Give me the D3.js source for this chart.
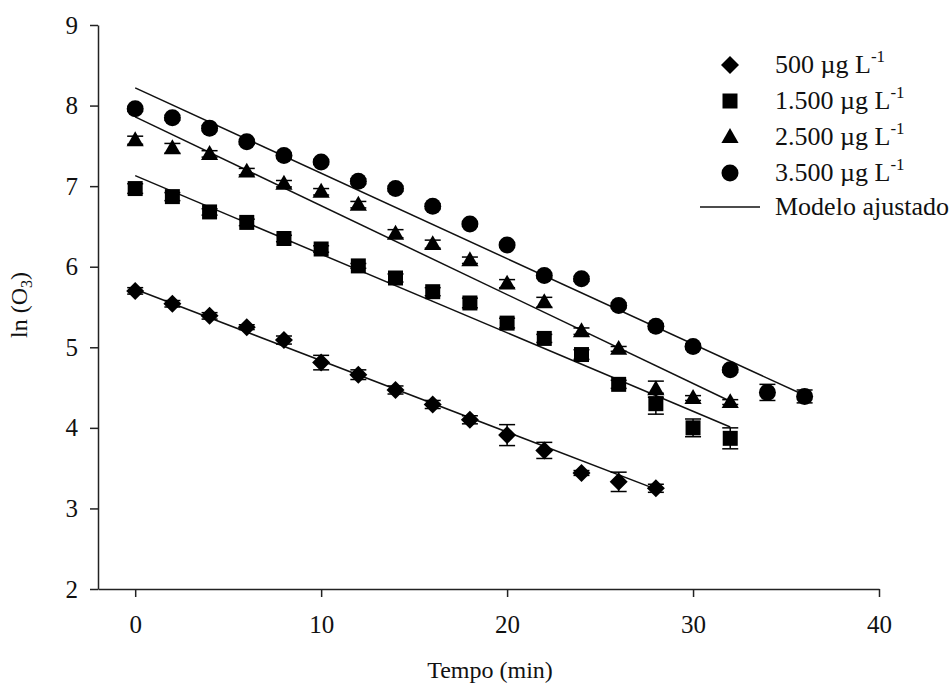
<!DOCTYPE html>
<html>
<head>
<meta charset="utf-8">
<script src="https://cdn.jsdelivr.net/npm/d3@7"></script>
<style>
body { margin: 0; background: #fff; }
svg { font-family: "Liberation Serif", "Times New Roman", serif; }
.axis path, .axis line { stroke: #222; stroke-width: 1.5; }
</style>
</head>
<body>
<svg width="952" height="689"></svg>
<script>
// tiempo (min) and ln(O3) for each dose
var t500 = [0, 2, 4, 6, 8, 10, 12, 14, 16, 18, 20, 22, 24, 26, 28]
var ln500 = [5.70, 5.54, 5.39, 5.25, 5.09, 4.81, 4.66, 4.47, 4.29, 4.10, 3.91, 3.72, 3.44, 3.33, 3.25]
var err500 = [0.04, 0.04, 0.04, 0.03, 0.05, 0.09, 0.06, 0.05, 0.05, 0.05, 0.13, 0.10, 0.03, 0.12, 0.05]

var t1500 = [0, 2, 4, 6, 8, 10, 12, 14, 16, 18, 20, 22, 24, 26, 28, 30, 32]
var ln1500 = [6.97, 6.87, 6.68, 6.55, 6.35, 6.22, 6.01, 5.86, 5.69, 5.55, 5.30, 5.11, 4.91, 4.54, 4.30, 4.00, 3.87]
var err1500 = [0.06, 0.05, 0.04, 0.04, 0.04, 0.04, 0.03, 0.05, 0.05, 0.06, 0.06, 0.05, 0.06, 0.05, 0.13, 0.11, 0.13]

var t2500 = [0, 2, 4, 6, 8, 10, 12, 14, 16, 18, 20, 22, 24, 26, 28, 30, 32]
var ln2500 = [7.57, 7.47, 7.40, 7.18, 7.03, 6.93, 6.77, 6.41, 6.28, 6.08, 5.79, 5.56, 5.20, 4.98, 4.48, 4.37, 4.32]
var err2500 = [0.05, 0.06, 0.04, 0.04, 0.04, 0.04, 0.04, 0.05, 0.05, 0.04, 0.05, 0.06, 0.04, 0.03, 0.10, 0.03, 0.03]

var t3500 = [0, 2, 4, 6, 8, 10, 12, 14, 16, 18, 20, 22, 24, 26, 28, 30, 32, 34, 36]
var ln3500 = [7.96, 7.85, 7.72, 7.55, 7.38, 7.30, 7.06, 6.97, 6.75, 6.53, 6.27, 5.89, 5.85, 5.52, 5.26, 5.01, 4.72, 4.44, 4.39]
var err3500 = [0.03, 0.03, 0.03, 0.03, 0.03, 0.03, 0.03, 0.03, 0.03, 0.03, 0.03, 0.03, 0.03, 0.03, 0.03, 0.03, 0.03, 0.10, 0.08]

// modelo ajustado: ln(O3) = a + b*t, drawn from t=0 to tEnd
var fitIntercept = [5.72, 7.13, 7.86, 8.22]
var fitSlope = [-0.0886, -0.0975, -0.1103, -0.106]
var fitEnd = [28, 32, 32, 36]

var seriesNames = ["500", "1.500", "2.500", "3.500"]
var xTicks = [0, 10, 20, 30, 40]
var yTicks = [2, 3, 4, 5, 6, 7, 8, 9]

var svg = d3.select("svg")

var x = d3.scaleLinear().domain([-2, 40]).range([98, 879])
var y = d3.scaleLinear().domain([2, 9]).range([589, 25])

var series = [
	{ t: t500, v: ln500, e: err500, shape: "diamond" },
	{ t: t1500, v: ln1500, e: err1500, shape: "square" },
	{ t: t2500, v: ln2500, e: err2500, shape: "triangle" },
	{ t: t3500, v: ln3500, e: err3500, shape: "circle" }
]

function symbolPath(shape) {
	if (shape == "diamond") return d3.symbol().type(d3.symbolSquare).size(162)()
	if (shape == "square") return d3.symbol().type(d3.symbolSquare).size(225)()
	if (shape == "triangle") return d3.symbol().type(d3.symbolTriangle).size(128)()
	return d3.symbol().type(d3.symbolCircle).size(227)()
}
function symbolTransform(shape, px, py) {
	if (shape == "diamond") return "translate(" + px + "," + py + ") rotate(45)"
	if (shape == "triangle") return "translate(" + px + "," + (py + 1) + ")"
	return "translate(" + px + "," + py + ")"
}

// axes
var xAxis = svg.append("g").attr("class", "axis")
	.attr("transform", "translate(0,589)")
	.call(d3.axisBottom(x).tickValues(xTicks).tickFormat(d3.format("d"))
		.tickSize(8).tickSizeOuter(0).tickPadding(18))

var yAxis = svg.append("g").attr("class", "axis")
	.attr("transform", "translate(98,0)")
	.call(d3.axisLeft(y).tickValues(yTicks).tickFormat(d3.format("d"))
		.tickSize(8).tickSizeOuter(0).tickPadding(12))

svg.selectAll(".axis")
	.attr("font-family", "Liberation Serif, Times New Roman, serif")
	.attr("font-size", 25)
svg.selectAll(".axis text").attr("fill", "#111")

// fitted lines
var fitLine = d3.line().x(d => x(d[0])).y(d => y(d[1]))
svg.append("g").selectAll("path")
	.data(fitIntercept).enter()
	.append("path")
	.attr("d", (a, i) => fitLine([[0, a], [fitEnd[i], a + fitSlope[i] * fitEnd[i]]]))
	.attr("fill", "none")
	.attr("stroke", "#111")
	.attr("stroke-width", 1.5)

// error bars then markers
series.forEach(function(s) {
	var pts = s.t.map((t, i) => ({ t: t, v: s.v[i], e: s.e[i] }))
	var eb = svg.append("g").attr("stroke", "#000").attr("stroke-width", 1.5)
	eb.selectAll("line.v").data(pts).enter().append("line").attr("class", "v")
		.attr("x1", d => x(d.t)).attr("x2", d => x(d.t))
		.attr("y1", d => y(d.v - d.e)).attr("y2", d => y(d.v + d.e))
	eb.selectAll("line.top").data(pts).enter().append("line").attr("class", "top")
		.attr("x1", d => x(d.t) - 8).attr("x2", d => x(d.t) + 8)
		.attr("y1", d => y(d.v + d.e)).attr("y2", d => y(d.v + d.e))
	eb.selectAll("line.bot").data(pts).enter().append("line").attr("class", "bot")
		.attr("x1", d => x(d.t) - 8).attr("x2", d => x(d.t) + 8)
		.attr("y1", d => y(d.v - d.e)).attr("y2", d => y(d.v - d.e))

	svg.append("g").selectAll("path").data(pts).enter()
		.append("path")
		.attr("d", symbolPath(s.shape))
		.attr("transform", d => symbolTransform(s.shape, x(d.t), y(d.v)))
		.attr("fill", "#000")
})

// legend
var legY = [65, 101, 137, 173]
var leg = svg.append("g")
series.forEach(function(s, i) {
	leg.append("path")
		.attr("d", symbolPath(s.shape))
		.attr("transform", symbolTransform(s.shape, 730, legY[i]))
		.attr("fill", "#000")
	var txt = leg.append("text")
		.attr("x", 775).attr("y", legY[i] + 8)
		.attr("font-size", 26).attr("fill", "#111")
	txt.append("tspan").text(seriesNames[i] + " \u00b5g L")
	txt.append("tspan").attr("font-size", 17).attr("dy", -11).text("-1")
})
leg.append("line")
	.attr("x1", 700).attr("x2", 760).attr("y1", 207).attr("y2", 207)
	.attr("stroke", "#111").attr("stroke-width", 1.5)
leg.append("text")
	.attr("x", 775).attr("y", 215)
	.attr("font-size", 26).attr("fill", "#111")
	.text("Modelo ajustado")

// axis titles
svg.append("text")
	.attr("x", 490).attr("y", 678)
	.attr("text-anchor", "middle")
	.attr("font-size", 24).attr("fill", "#111")
	.text("Tempo (min)")

var yt = svg.append("text")
	.attr("transform", "translate(27,305) rotate(-90)")
	.attr("text-anchor", "middle")
	.attr("font-size", 24).attr("fill", "#111")
yt.append("tspan").text("ln (O")
yt.append("tspan").attr("font-size", 16).attr("dy", 5).text("3")
yt.append("tspan").attr("dy", -5).text(")")
</script>
</body>
</html>
